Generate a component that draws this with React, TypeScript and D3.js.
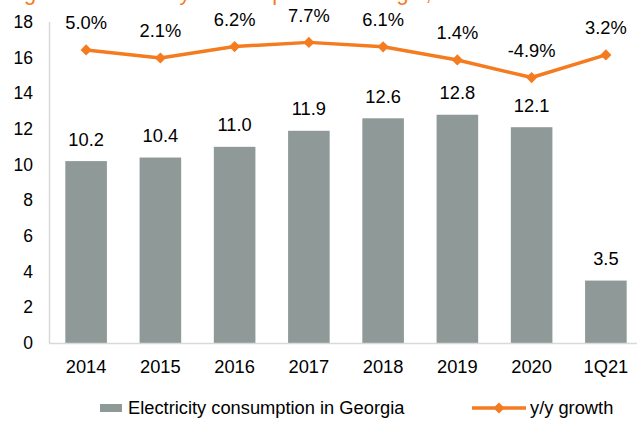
import React, { useEffect, useRef } from "react";
import * as d3 from "d3";

// Chart data
const categories = ["2014", "2015", "2016", "2017", "2018", "2019", "2020", "1Q21"];
const consumption = [10.2, 10.4, 11.0, 11.9, 12.6, 12.8, 12.1, 3.5];
const growth = [5.0, 2.1, 6.2, 7.7, 6.1, 1.4, -4.9, 3.2];
const yTicks = [0, 2, 4, 6, 8, 10, 12, 14, 16, 18];
const titleText = "Figure 1: Electricity consumption in Georgia, bn kWh";
const barLegend = "Electricity consumption in Georgia";
const lineLegend = "y/y growth";

const App = () => {
  const svgRef = useRef<SVGSVGElement | null>(null);

  useEffect(() => {
    const width = 637;
    const height = 421;
    const font = "'Liberation Sans', Arial, sans-serif";
    const fs = "18.3px";
    const orange = "#F47B20";
    const gray = "#8E9998";

    const svg = d3.select(svgRef.current);
    svg.selectAll("*").remove();
    svg.attr("width", width).attr("height", height);

    svg.append("rect").attr("width", width).attr("height", height).attr("fill", "#fff");

    // Scales
    const xScale = d3.scaleBand().domain(categories).range([49, 643]).paddingInner(0.44).paddingOuter(0.22);
    const yScale = d3.scaleLinear().domain([0, 18]).range([343, 22]);
    const y2Scale = d3.scaleLinear().domain([-100, 15]).range([343, 22]);

    // Cut-off title at the top
    svg
      .append("text")
      .attr("x", 6)
      .attr("y", -0.5)
      .style("font-family", font)
      .style("font-size", "21.7px")
      .style("fill", orange)
      .text(titleText);

    // y axis labels
    svg
      .append("g")
      .selectAll("text")
      .data(yTicks)
      .enter()
      .append("text")
      .attr("x", 33)
      .attr("y", (d) => yScale(d))
      .attr("dy", "0.35em")
      .attr("text-anchor", "end")
      .style("font-family", font)
      .style("font-size", "17.5px")
      .style("fill", "#000")
      .text((d) => d);

    // Left axis line
    svg
      .append("line")
      .attr("x1", 49.5)
      .attr("x2", 49.5)
      .attr("y1", yScale(18))
      .attr("y2", yScale(0))
      .attr("stroke", "#D9D9D9")
      .attr("stroke-width", 1.5);

    // Bars
    svg
      .append("g")
      .selectAll("rect")
      .data(consumption)
      .enter()
      .append("rect")
      .attr("x", (_, i) => xScale(categories[i]) as number)
      .attr("y", (d) => yScale(d))
      .attr("width", xScale.bandwidth())
      .attr("height", (d) => yScale(0) - yScale(d))
      .attr("fill", gray);

    // Baseline
    svg
      .append("line")
      .attr("x1", 49)
      .attr("x2", width)
      .attr("y1", yScale(0) + 0.5)
      .attr("y2", yScale(0) + 0.5)
      .attr("stroke", "#D9D9D9")
      .attr("stroke-width", 1.5);

    // Bar value labels
    svg
      .append("g")
      .selectAll("text")
      .data(consumption)
      .enter()
      .append("text")
      .attr("x", (_, i) => (xScale(categories[i]) as number) + xScale.bandwidth() / 2)
      .attr("y", (d) => yScale(d) - 22)
      .attr("dy", "0.35em")
      .attr("text-anchor", "middle")
      .style("font-family", font)
      .style("font-size", fs)
      .style("fill", "#000")
      .text((d) => d.toFixed(1));

    // Category labels
    svg
      .append("g")
      .selectAll("text")
      .data(categories)
      .enter()
      .append("text")
      .attr("x", (d) => (xScale(d) as number) + xScale.bandwidth() / 2)
      .attr("y", 367)
      .attr("dy", "0.35em")
      .attr("text-anchor", "middle")
      .style("font-family", font)
      .style("font-size", fs)
      .style("fill", "#000")
      .text((d) => d);

    // Growth line
    const cx = (i: number) => (xScale(categories[i]) as number) + xScale.bandwidth() / 2;
    const line = d3
      .line<number>()
      .x((_, i) => cx(i))
      .y((d) => y2Scale(d));

    svg
      .append("path")
      .datum(growth)
      .attr("d", line)
      .attr("fill", "none")
      .attr("stroke", orange)
      .attr("stroke-width", 3.5)
      .attr("stroke-linejoin", "round");

    const diamond = d3.symbol().type(d3.symbolDiamond2).size(80);
    svg
      .append("g")
      .selectAll("path")
      .data(growth)
      .enter()
      .append("path")
      .attr("d", diamond)
      .attr("transform", (d, i) => `translate(${cx(i)},${y2Scale(d)})`)
      .attr("fill", orange);

    // Growth labels
    svg
      .append("g")
      .selectAll("text")
      .data(growth)
      .enter()
      .append("text")
      .attr("x", (_, i) => cx(i))
      .attr("y", (d) => y2Scale(d) - 27)
      .attr("dy", "0.35em")
      .attr("text-anchor", "middle")
      .style("font-family", font)
      .style("font-size", fs)
      .style("fill", "#000")
      .text((d) => `${d.toFixed(1)}%`);

    // Legend
    const legendY = 408;
    svg
      .append("rect")
      .attr("x", 100)
      .attr("y", legendY - 4)
      .attr("width", 22)
      .attr("height", 8)
      .attr("fill", gray);
    svg
      .append("text")
      .attr("x", 128)
      .attr("y", legendY)
      .attr("dy", "0.35em")
      .style("font-family", font)
      .style("font-size", fs)
      .style("fill", "#000")
      .text(barLegend);
    svg
      .append("line")
      .attr("x1", 472)
      .attr("x2", 526)
      .attr("y1", legendY)
      .attr("y2", legendY)
      .attr("stroke", orange)
      .attr("stroke-width", 3.5);
    svg
      .append("path")
      .attr("d", diamond)
      .attr("transform", `translate(499,${legendY})`)
      .attr("fill", orange);
    svg
      .append("text")
      .attr("x", 530)
      .attr("y", legendY)
      .attr("dy", "0.35em")
      .style("font-family", font)
      .style("font-size", fs)
      .style("fill", "#000")
      .text(lineLegend);
  }, []);

  return (
    <svg
      ref={svgRef}
      style={{ position: "absolute", left: 0, top: 0, display: "block" }}
    ></svg>
  );
};

export default App;
